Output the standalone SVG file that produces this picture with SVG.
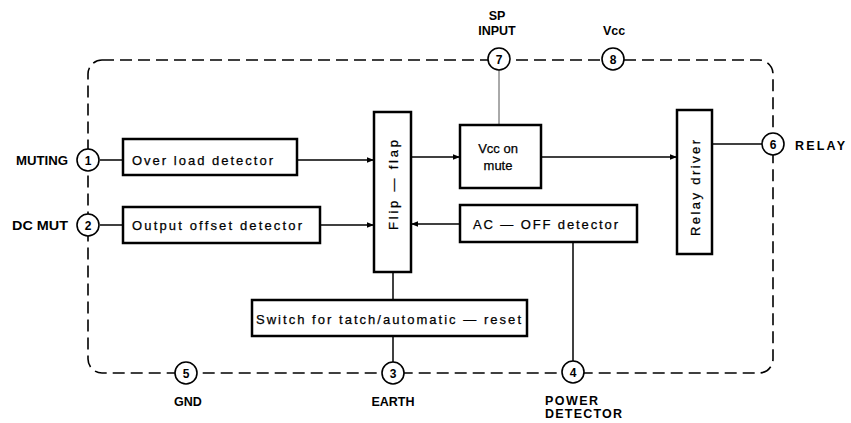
<svg xmlns="http://www.w3.org/2000/svg" width="851" height="423" viewBox="0 0 851 423">
<defs>
<style>
.box{fill:#fff;stroke:#000;stroke-width:2.5}
.pin{fill:#fff;stroke:#000;stroke-width:1.6}
.ln{fill:none;stroke:#000;stroke-width:1.5}
.thin{fill:none;stroke:#555;stroke-width:1}
.dash{fill:none;stroke:#000;stroke-width:1.6;stroke-dasharray:12 6}
text{font-family:"Liberation Sans","DejaVu Sans",sans-serif;fill:#000}
.t{font-size:13px;stroke:#000;stroke-width:0.25}
.lab{font-size:12.5px;font-weight:bold}
.num{font-size:12px;font-weight:bold;text-anchor:middle}
</style>
<marker id="ar" viewBox="0 0 10 10" refX="10" refY="5" markerWidth="9" markerHeight="7" markerUnits="userSpaceOnUse" orient="auto">
<path d="M0,1 L10,5 L0,9 z" fill="#000"/>
</marker>
</defs>
<rect width="851" height="423" fill="#fff"/>

<g id="border">
<rect class="dash" x="88" y="60" width="685" height="313" rx="14" ry="14"/>
</g>

<g id="connectors">
<line class="ln" x1="100" y1="160" x2="123" y2="160"/>
<line class="ln" x1="100" y1="225" x2="123" y2="225"/>
<line class="ln" x1="297" y1="160" x2="374" y2="160" marker-end="url(#ar)"/>
<line class="ln" x1="320" y1="225" x2="374" y2="225" marker-end="url(#ar)"/>
<line class="ln" x1="460" y1="224" x2="411" y2="224" marker-end="url(#ar)"/>
<line class="ln" x1="411" y1="157" x2="460" y2="157" marker-end="url(#ar)"/>
<line class="ln" x1="541" y1="157" x2="677" y2="157" marker-end="url(#ar)"/>
<line class="ln" x1="712" y1="144" x2="762" y2="144"/>
<line class="thin" x1="499" y1="70" x2="499" y2="125"/>
<line class="ln" x1="393" y1="272" x2="393" y2="300"/>
<line class="ln" x1="393" y1="336" x2="393" y2="362"/>
<line class="ln" x1="573" y1="242" x2="573" y2="361"/>
</g>

<g id="pin1"><circle class="pin" cx="88" cy="160" r="11"/><text class="num" x="88" y="164.5">1</text><text class="lab" x="16" y="165" textLength="52" lengthAdjust="spacingAndGlyphs">MUTING</text></g>
<g id="pin2"><circle class="pin" cx="88" cy="225" r="11"/><text class="num" x="88" y="229.5">2</text><text class="lab" x="12" y="230" textLength="56" lengthAdjust="spacingAndGlyphs">DC MUT</text></g>
<g id="pin3"><circle class="pin" cx="393" cy="373" r="11"/><text class="num" x="393" y="377.5">3</text><text class="lab" x="393" y="406" text-anchor="middle">EARTH</text></g>
<g id="pin4"><circle class="pin" cx="573" cy="372" r="11"/><text class="num" x="573" y="376.5">4</text><text class="lab" x="545" y="405" textLength="53" lengthAdjust="spacing">POWER</text><text class="lab" x="545" y="418" textLength="77" lengthAdjust="spacing">DETECTOR</text></g>
<g id="pin5"><circle class="pin" cx="186" cy="373" r="11"/><text class="num" x="186" y="377.5">5</text><text class="lab" x="188" y="406" text-anchor="middle">GND</text></g>
<g id="pin6"><circle class="pin" cx="773" cy="144" r="11"/><text class="num" x="773" y="148.5">6</text><text class="lab" x="795" y="150" textLength="50" lengthAdjust="spacing">RELAY</text></g>
<g id="pin7"><circle class="pin" cx="499" cy="59" r="11"/><text class="num" x="499" y="63.5">7</text><text class="lab" x="497" y="20" text-anchor="middle">SP</text><text class="lab" x="497" y="35" text-anchor="middle">INPUT</text></g>
<g id="pin8"><circle class="pin" cx="613" cy="59" r="11"/><text class="num" x="613" y="63.5">8</text><text class="lab" x="614" y="35" text-anchor="middle">Vcc</text></g>

<g id="overload"><rect class="box" x="123" y="139" width="174" height="36"/><text class="t" x="132" y="165" textLength="141" lengthAdjust="spacing">Over load  detector</text></g>
<g id="offset"><rect class="box" x="123" y="207" width="197" height="36"/><text class="t" x="132" y="230" textLength="170" lengthAdjust="spacing">Output offset detector</text></g>
<g id="flipflop"><rect class="box" x="374" y="112" width="37" height="160"/><text class="t" transform="translate(398,185) rotate(-90)" x="-45" y="0" textLength="90" lengthAdjust="spacing">Flip — flap</text></g>
<g id="vccmute"><rect class="box" x="460" y="125" width="81" height="63"/><text class="t" x="498" y="153" text-anchor="middle">Vcc on</text><text class="t" x="498" y="170" text-anchor="middle">mute</text></g>
<g id="acoff"><rect class="box" x="460" y="205" width="177" height="37"/><text class="t" x="473" y="229" textLength="145" lengthAdjust="spacing">AC — OFF  detector</text></g>
<g id="relaydriver"><rect class="box" x="677" y="110" width="35" height="144"/><text class="t" transform="translate(700,188) rotate(-90)" x="-48" y="0" textLength="96" lengthAdjust="spacing">Relay  driver</text></g>
<g id="switch"><rect class="box" x="252" y="300" width="275" height="36"/><text class="t" x="256" y="324" textLength="265" lengthAdjust="spacing">Switch for tatch/automatic — reset</text></g>
</svg>
